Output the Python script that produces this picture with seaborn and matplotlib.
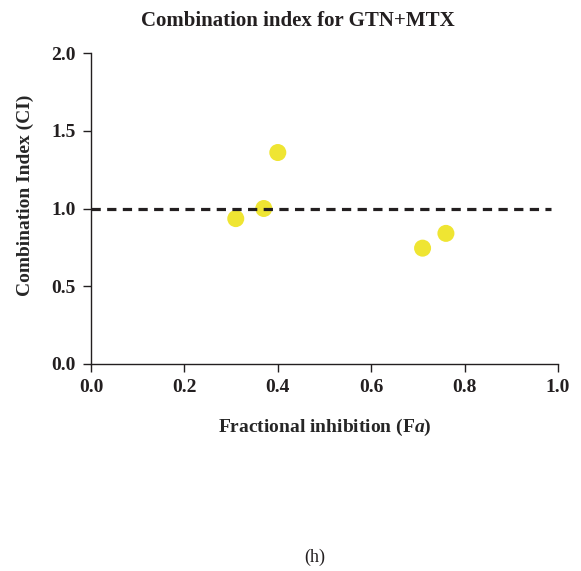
import matplotlib
matplotlib.use("Agg")
import matplotlib.pyplot as plt
import seaborn as sns
import pandas as pd

# valores
fa_values = [0.31, 0.37, 0.40, 0.71, 0.76]
ci_values = [0.935, 1.00, 1.36, 0.745, 0.84]
x_ticks = [0.0, 0.2, 0.4, 0.6, 0.8, 1.0]
y_ticks = [0.0, 0.5, 1.0, 1.5, 2.0]
ci_reference = 1.0

title_text = "Combination index for GTN+MTX"
x_label = r"Fractional inhibition (F$\mathbfit{a}$)"
y_label = "Combination Index (CI)"
panel_label = "(h)"


def setup_visual_style():
    sns.set_style("ticks")
    plt.rcParams['font.family'] = ['Liberation Serif', 'DejaVu Serif']
    plt.rcParams['font.weight'] = 'bold'
    plt.rcParams['mathtext.fontset'] = 'custom'
    plt.rcParams['mathtext.rm'] = 'Liberation Serif:bold'
    plt.rcParams['mathtext.bf'] = 'Liberation Serif:bold'
    plt.rcParams['mathtext.it'] = 'Liberation Serif:italic:bold'
    plt.rcParams['mathtext.bfit'] = 'Liberation Serif:italic:bold'
    plt.rcParams['axes.edgecolor'] = '#231f20'
    plt.rcParams['text.color'] = '#231f20'
    plt.rcParams['xtick.color'] = '#231f20'
    plt.rcParams['ytick.color'] = '#231f20'


setup_visual_style()

df = pd.DataFrame({'fa': fa_values, 'ci': ci_values})

fig = plt.figure(figsize=(5.81, 5.71), dpi=100)
ax = fig.add_axes([91 / 581, 1 - 364 / 571, 467 / 581, 311 / 571])

sns.scatterplot(data=df, x='fa', y='ci', ax=ax, color='#efe532', s=150,
                edgecolor='none', zorder=2)
ax.axhline(ci_reference, xmin=0.0, xmax=0.985, color='#231f20', lw=2.3,
           ls=(0, (2.9, 2.0)), zorder=3)

ax.set_xlim(0, 1)
ax.set_ylim(0, 2)
ax.set_xticks(x_ticks)
ax.set_yticks(y_ticks)
ax.set_xticklabels([f"{t:.1f}" for t in x_ticks])
ax.set_yticklabels([f"{t:.1f}" for t in y_ticks])
ax.tick_params(length=6, width=1.0, pad=5, labelsize=14)
for s in ['left', 'bottom']:
    ax.spines[s].set_linewidth(1.0)
sns.despine(ax=ax)

ax.set_xlabel(x_label, fontsize=14, fontweight='bold', va='center')
ax.xaxis.set_label_coords(0.5, -(427 - 364) / 311)
ax.set_ylabel(y_label, fontsize=14, fontweight='bold', va='center', ha='center')
ax.yaxis.set_label_coords((25 - 91) / 467, (364 - 195) / 311)

fig.text(298 / 581, 1 - 21 / 571, title_text, ha='center', va='center',
         fontsize=15, fontweight='bold')
fig.text(315 / 581, 1 - 557 / 571, panel_label, ha='center', va='center',
         fontsize=13, fontweight='normal')

fig.savefig('out.png', dpi=100)
